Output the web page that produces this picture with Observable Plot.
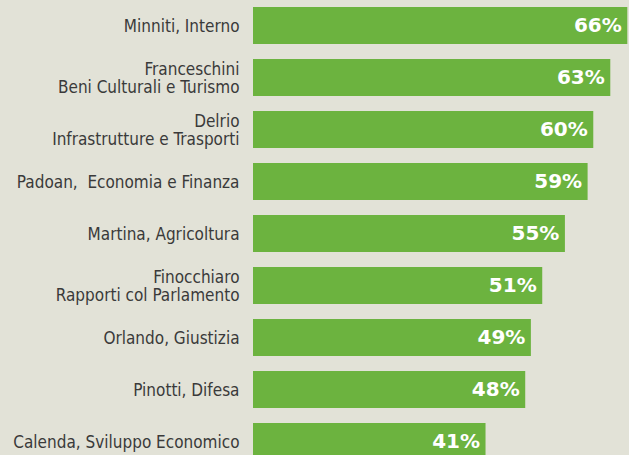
<!DOCTYPE html>
<html>
<head>
<meta charset="utf-8">
<script src="https://cdn.jsdelivr.net/npm/d3@7"></script>
<script src="https://cdn.jsdelivr.net/npm/@observablehq/plot@0.6"></script>
<style>
  html, body { margin: 0; padding: 0; background: #e2e2d7; overflow: hidden; }
  #chart svg { display: block; }
</style>
</head>
<body>
<div id="chart"></div>
<script>
const ministers = [
  "Minniti, Interno",
  "Franceschini\nBeni Culturali e Turismo",
  "Delrio\nInfrastrutture e Trasporti",
  "Padoan,  Economia e Finanza",
  "Martina, Agricoltura",
  "Finocchiaro\nRapporti col Parlamento",
  "Orlando, Giustizia",
  "Pinotti, Difesa",
  "Calenda, Sviluppo Economico"
];
const approval = [66, 63, 60, 59, 55, 51, 49, 48, 41];

const data = ministers.map((name, i) => ({name, value: approval[i]}));

const chart = Plot.plot({
  width: 629,
  height: 460,
  marginLeft: 253,
  marginRight: 0,
  marginTop: 7,
  marginBottom: 0,
  style: {background: "#e2e2d7", color: "#3a3a3a", fontFamily: "DejaVu Sans Condensed, sans-serif"},
  x: {domain: [0, 66.3], axis: null},
  y: {domain: ministers, paddingInner: 0.29, paddingOuter: 0, axis: null},
  marks: [
    Plot.barX(data, {x: "value", y: "name", fill: "#6cb33f"}),
    Plot.axisY({tickSize: 0, tickPadding: 14, fontSize: 17, lineHeight: 1.08, label: null}),
    Plot.text(data, {
      x: "value", y: "name", text: d => d.value + "%",
      textAnchor: "end", dx: -6, fill: "white", fontWeight: "bold",
      fontSize: 20, fontFamily: "DejaVu Sans, sans-serif"
    })
  ]
});
document.getElementById("chart").appendChild(chart);
</script>
</body>
</html>
